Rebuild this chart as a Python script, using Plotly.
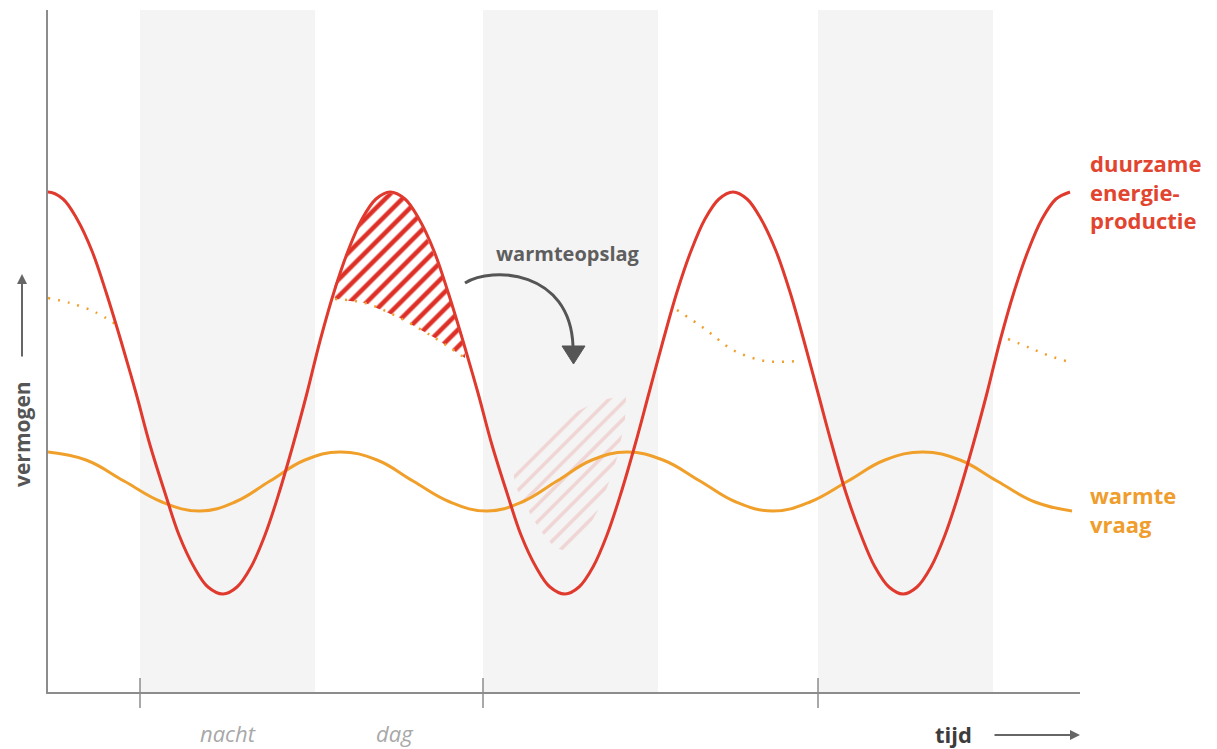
import plotly.graph_objects as go

# ---- data (time units along x, power units along y) ----
XMAX = 1032
YMAX = 682

# renewable production (red), read every ~15 degrees of the daily cycle
prod_t = [-15,
          0, 15, 29, 44, 58, 73, 88, 102, 117, 131, 146, 160, 175,
          189, 203, 217, 231, 245, 259, 272, 286, 300, 314, 328, 342,
          357, 371, 386, 400, 415, 430, 444, 459, 473, 488, 502, 517,
          531, 545, 559, 573, 587, 601, 615, 629, 643, 657, 671, 685,
          699, 713, 728, 742, 756, 770, 784, 798, 813, 827, 841, 855,
          869, 883, 897, 911, 925, 939, 952, 966, 980, 994, 1008, 1022]
prod_p = [493,
          500, 493, 473, 441, 400, 351, 299, 247, 199, 157, 125, 105, 98,
          105, 125, 157, 199, 247, 299, 351, 400, 441, 473, 493, 500,
          493, 473, 441, 400, 351, 299, 247, 199, 157, 125, 105, 98,
          105, 125, 157, 199, 247, 299, 351, 400, 441, 473, 493, 500,
          493, 473, 441, 400, 351, 299, 247, 199, 157, 125, 105, 98,
          105, 125, 157, 199, 247, 299, 351, 400, 441, 473, 493, 500]

# heat demand (orange)
dem_t = [0, 38, 76, 114, 152, 187, 222, 257, 292, 329, 365, 402, 439, 474, 509,
         544, 579, 615, 652, 688, 725, 762, 800, 837, 875, 912, 949, 987, 1024]
dem_p = [240, 232, 211, 190, 181, 190, 211, 232, 240, 232, 211, 190, 181, 190, 211,
         232, 240, 232, 211, 190, 181, 190, 211, 232, 240, 232, 211, 190, 181]

# dotted (orange) segments
dot_segments = [
    ([0, 22, 47, 69], [394, 389, 380, 367]),
    ([287, 317, 352, 387, 417], [393, 389, 374, 354, 334]),
    ([629, 657, 685, 717, 750], [382, 363, 342, 331, 331]),
    ([960, 982, 1002, 1025], [353, 344, 336, 329]),
]

# stored heat (hatched area) and where it is released
store_t = [285, 297, 313, 327, 342, 357, 371, 384, 396, 408, 417,
           417, 387, 352, 317, 287]
store_p = [402, 435, 472, 492, 499, 494, 472, 442, 412, 372, 340,
           334, 354, 374, 389, 393]
release_t = [465, 492, 522, 552, 578, 577, 570, 560, 549, 535, 522, 507, 492, 477, 467]
release_p = [224, 252, 277, 292, 296, 272, 237, 207, 180, 155, 140, 144, 162, 187, 207]

# night periods
night_start = [92, 435, 770]
night_end = [267, 610, 945]

labels_period = ["nacht", "dag"]
label_period_t = [180, 347]

RED = "#e0392d"
ORANGE = "#f0a02a"
GRAY_AX = "#8c8c8c"

fig = go.Figure()

fig.add_trace(go.Scatter(
    x=store_t, y=store_p, mode="lines", fill="toself",
    line=dict(width=0), fillcolor="rgba(0,0,0,0)",
    fillpattern=dict(shape="/", fgcolor="#dd2f26", fgopacity=1, bgcolor="rgba(0,0,0,0)",
                     size=12, solidity=0.38),
    hoverinfo="skip", showlegend=False))

fig.add_trace(go.Scatter(
    x=release_t, y=release_p, mode="lines", fill="toself",
    line=dict(width=0), fillcolor="rgba(0,0,0,0)",
    fillpattern=dict(shape="/", fgcolor="rgba(232,140,140,0.6)", bgcolor="rgba(0,0,0,0)",
                     size=12, solidity=0.3),
    hoverinfo="skip", showlegend=False))

for sx, sy in dot_segments:
    fig.add_trace(go.Scatter(
        x=sx, y=sy, mode="lines", line=dict(color=ORANGE, width=2.5, dash="2px,8px", shape="spline"),
        hoverinfo="skip", showlegend=False))

fig.add_trace(go.Scatter(
    x=dem_t, y=dem_p, mode="lines",
    line=dict(color=ORANGE, width=3, shape="spline", smoothing=1.2),
    showlegend=False, name="warmtevraag"))

fig.add_trace(go.Scatter(
    x=prod_t, y=prod_p, mode="lines",
    line=dict(color=RED, width=3, shape="spline", smoothing=1.0),
    showlegend=False, name="duurzame energieproductie"))

shapes = []
for a, b in zip(night_start, night_end):
    shapes.append(dict(type="rect", xref="x", yref="paper", x0=a, x1=b, y0=0, y1=1,
                       fillcolor="#f4f4f4", line=dict(width=0), layer="below"))
for a in night_start:
    shapes.append(dict(type="line", xref="paper", yref="paper",
                       x0=a / XMAX, x1=a / XMAX, y0=-16 / YMAX, y1=14 / YMAX,
                       line=dict(color=GRAY_AX, width=1.5)))

# curved storage arrow
shapes.append(dict(type="path", xref="x", yref="y",
                   path="M 417,409 C 444,426 522,422 525,346",
                   line=dict(color="#555555", width=3)))
shapes.append(dict(type="path", xref="x", yref="y",
                   path="M 514,346 L 537,346 L 525.5,328 Z",
                   fillcolor="#555555", line=dict(color="#555555", width=1)))


def px(t):
    return t / XMAX


def py(p):
    return p / YMAX


annotations = []
FONT = "Open Sans"
annotations.append(dict(x=px(1040), y=py(546), xref="paper", yref="paper", xanchor="left", yanchor="top",
                        text="<b>duurzame<br>energie-<br>productie</b>", showarrow=False, align="left",
                        font=dict(family=FONT, size=22, color="#e2452f")))
annotations.append(dict(x=px(1040), y=py(214), xref="paper", yref="paper", xanchor="left", yanchor="top",
                        text="<b>warmte<br>vraag</b>", showarrow=False, align="left",
                        font=dict(family=FONT, size=22, color="#ef9d2c")))
annotations.append(dict(x=520, y=439, xref="x", yref="y", xanchor="center", yanchor="middle",
                        text="<b>warmteopslag</b>", showarrow=False,
                        font=dict(family=FONT, size=20, color="#5e5e5e")))
annotations.append(dict(x=px(-26), y=py(258), xref="paper", yref="paper", xanchor="center", yanchor="middle",
                        text="<b>vermogen</b>", showarrow=False, textangle=-90, borderpad=0,
                        font=dict(family=FONT, size=21, color="#555555")))
annotations.append(dict(x=px(-26), y=py(418), xref="paper", yref="paper", ax=0, ay=84,
                        text="", showarrow=True, arrowhead=2, arrowsize=1, arrowwidth=2,
                        arrowcolor="#666666"))
for lab, t in zip(labels_period, label_period_t):
    annotations.append(dict(x=px(t), y=py(-41), xref="paper", yref="paper", xanchor="center", yanchor="middle",
                            text=lab, showarrow=False, borderpad=0,
                            font=dict(family=FONT, size=22, color="#a8a8a8", style="italic")))
annotations.append(dict(x=px(905), y=py(-42), xref="paper", yref="paper", xanchor="center", yanchor="middle",
                        text="<b>tijd</b>", showarrow=False, borderpad=0,
                        font=dict(family=FONT, size=22, color="#3c3c3c")))
annotations.append(dict(x=px(1032), y=py(-43), xref="paper", yref="paper", ax=-87, ay=0,
                        text="", showarrow=True, arrowhead=2, arrowsize=1, arrowwidth=2,
                        arrowcolor="#666666"))

fig.update_layout(
    width=1209, height=741,
    margin=dict(l=40, r=137, t=2, b=57),
    paper_bgcolor="white", plot_bgcolor="white",
    shapes=shapes, annotations=annotations,
    showlegend=False,
)
fig.update_xaxes(range=[0, XMAX], showgrid=False, zeroline=False, showticklabels=False,
                 showline=True, linecolor=GRAY_AX, linewidth=2, ticks="", fixedrange=True)
fig.update_yaxes(range=[0, YMAX], showgrid=False, zeroline=False, showticklabels=False,
                 showline=True, linecolor=GRAY_AX, linewidth=2, ticks="", fixedrange=True)

fig.write_html("out.html")
